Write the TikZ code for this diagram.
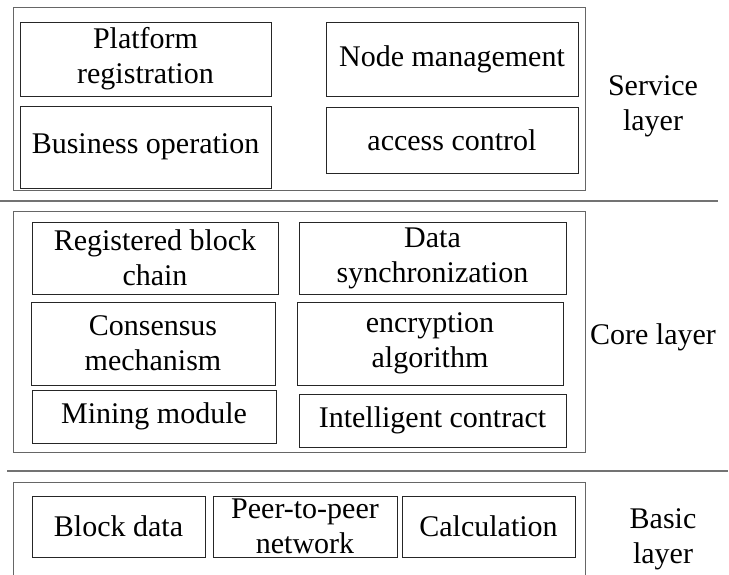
\documentclass[tikz,border=0pt]{standalone}
\usepackage{fontspec}
\setmainfont{Liberation Serif}
\begin{document}
\begin{tikzpicture}[x=1pt,y=-1pt,
  inbox/.style={draw=black!85, line width=0.7pt, inner sep=0pt, align=center,
    font=\fontsize{30}{35}\selectfont},
  outerbox/.style={draw=black!60, line width=1pt},
  sepline/.style={draw=black!55, line width=1.2pt},
  lbl/.style={align=center, font=\fontsize{30}{35}\selectfont, inner sep=0pt}]
\useasboundingbox (0,0) rectangle (729,575);
% outer layer frames
\draw[outerbox] (13,8) rectangle (585,191);
\draw[outerbox] (13,212) rectangle (585,452);
\draw[outerbox] (13,590) -- (13,482) -- (585,482) -- (585,590);
% separators
\coordinate (s1a) at (0,201);
\coordinate (s1b) at (718,201);
\coordinate (s2a) at (7,471);
\coordinate (s2b) at (728,471);
\draw[sepline] (s1a) -- (s1b);
\draw[sepline] (s2a) -- (s2b);
% service layer
\node[inbox, minimum width=251, minimum height=74] (plat) at (145.5,59) {Platform\\registration};
\node[inbox, minimum width=251, minimum height=82] (bus) at (145.5,147) {Business operation};
\node[inbox, minimum width=252, minimum height=74] (nodem) at (452,59) {Node management};
\node[inbox, minimum width=252, minimum height=66] (acc) at (452,140) {access control};
\node[lbl] (svc) at (653,106) {Service\\layer};
% core layer
\node[inbox, minimum width=246, minimum height=72] (reg) at (155,258) {Registered block\\chain};
\node[inbox, minimum width=244, minimum height=83] (cons) at (153,343.5) {Consensus\\mechanism};
\node[inbox, minimum width=244, minimum height=53] (mine) at (154,416.5) {Mining module};
\node[inbox, minimum width=267, minimum height=72] (sync) at (432.5,258) {Data\\synchronization};
\node[inbox, minimum width=266, minimum height=83] (enc) at (430,343.5) {encryption\\algorithm};
\node[inbox, minimum width=267, minimum height=53] (intel) at (432.5,420.5) {Intelligent contract};
\node[lbl] (core) at (653,337) {Core layer};
% basic layer
\node[inbox, minimum width=173, minimum height=61] (blk) at (118.5,526.5) {Block data};
\node[inbox, minimum width=184, minimum height=61] (p2p) at (305,526.5) {Peer-to-peer\\network};
\node[inbox, minimum width=173, minimum height=61] (calc) at (488.5,526.5) {Calculation};
\node[lbl] (basic) at (663,539) {Basic\\layer};
\end{tikzpicture}
\end{document}
